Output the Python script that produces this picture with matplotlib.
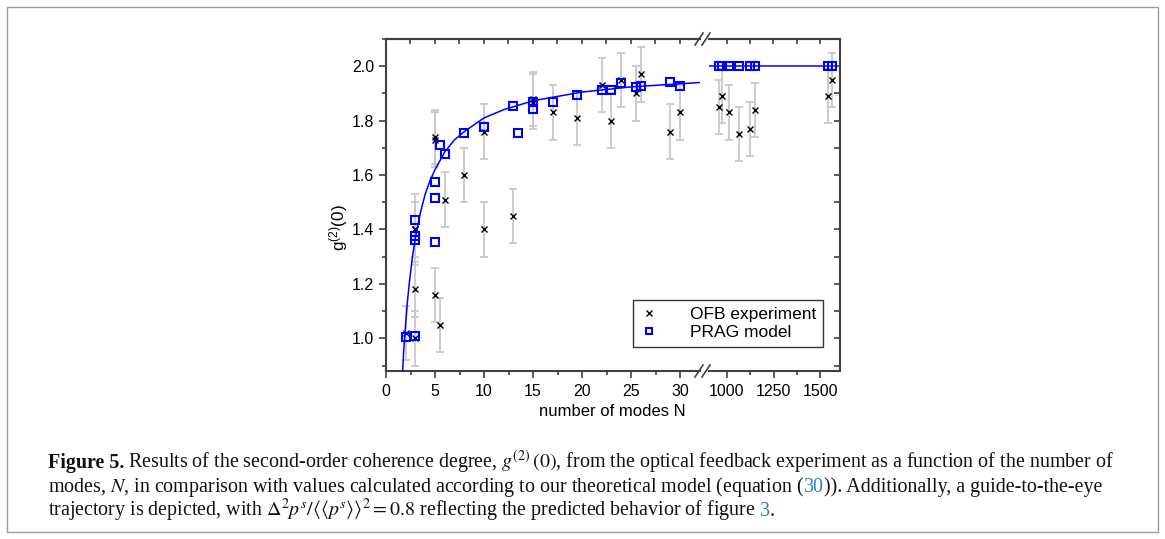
import matplotlib
matplotlib.use("Agg")
import matplotlib.pyplot as plt
from matplotlib.ticker import MultipleLocator, FixedLocator
from matplotlib.lines import Line2D
from matplotlib.patches import Rectangle

# ---------------- data ----------------
ofb_N_left = [2, 3, 3, 3, 3, 5, 5, 5, 5.5, 6, 8, 10, 10, 13, 15, 15, 17, 19.5,
              22, 23, 24, 25.5, 26, 29, 30]
ofb_g2_left = [1.02, 1.40, 1.40, 1.18, 1.00, 1.74, 1.73, 1.16, 1.05, 1.51, 1.60,
               1.76, 1.40, 1.45, 1.88, 1.87, 1.83, 1.81, 1.93, 1.80, 1.95, 1.90,
               1.97, 1.76, 1.83]
ofb_err_left = [0.10, 0.13, 0.10, 0.10, 0.10, 0.10, 0.10, 0.10, 0.10, 0.10, 0.10,
                0.10, 0.10, 0.10, 0.10, 0.10, 0.10, 0.10, 0.10, 0.10, 0.10, 0.10,
                0.10, 0.10, 0.10]

ofb_N_right = [957, 971, 1011, 1066, 1126, 1151, 1543, 1565]
ofb_g2_right = [1.85, 1.89, 1.83, 1.75, 1.77, 1.84, 1.89, 1.95]
ofb_err_right = [0.10, 0.10, 0.10, 0.10, 0.10, 0.10, 0.10, 0.10]

prag_N_left = [2, 3, 3, 3, 3, 5, 5, 5, 5.5, 6, 8, 10, 10, 13, 13.5, 15, 15, 17,
               19.5, 22, 23, 24, 25.5, 26, 29, 30]
prag_g2_left = [1.005, 1.01, 1.36, 1.375, 1.435, 1.355, 1.515, 1.573, 1.712, 1.677,
                1.756, 1.777, 1.775, 1.855, 1.754, 1.87, 1.843, 1.87, 1.894, 1.911,
                1.912, 1.938, 1.923, 1.926, 1.943, 1.927]

prag_N_right = [957, 971, 1011, 1066, 1126, 1151, 1543, 1565]
prag_g2_right = [2.0, 2.0, 2.0, 2.0, 2.0, 2.0, 2.0, 2.0]

guide_N_left = [1.7, 1.8, 1.9, 2.0, 2.2, 2.4, 2.7, 3.0, 3.5, 4.0, 4.5, 5, 6, 7, 8,
                10, 12, 15, 20, 25, 32]
guide_g2_left = [0.88, 0.95, 1.00, 1.05, 1.14, 1.21, 1.30, 1.37, 1.46, 1.53, 1.58,
                 1.62, 1.685, 1.73, 1.76, 1.81, 1.84, 1.873, 1.905, 1.924, 1.94]
guide_N_right = [880, 1572]
guide_g2_right = [2.0, 2.0]

xticks_left = [0, 5, 10, 15, 20, 25, 30]
xticks_right = [1000, 1250, 1500]
yticks = [1.0, 1.2, 1.4, 1.6, 1.8, 2.0]

# ---------------- figure ----------------
plt.rcParams['font.family'] = ['Liberation Sans', 'DejaVu Sans']
plt.rcParams['mathtext.fontset'] = 'custom'
plt.rcParams['mathtext.rm'] = 'Liberation Sans'
plt.rcParams['mathtext.it'] = 'Liberation Sans:italic'
plt.rcParams['mathtext.bf'] = 'Liberation Sans:bold'

W, H = 1165, 539
fig = plt.figure(figsize=(W / 100, H / 100), dpi=100)


def fx(px):
    return px / W


def fy(py):
    return 1 - py / H


AX_L, AX_BREAK_L, AX_BREAK_R, AX_R = 386, 700, 709, 840
AX_T, AX_B = 39, 371
axL = fig.add_axes([fx(AX_L), fy(AX_B), fx(AX_BREAK_L) - fx(AX_L), fy(AX_T) - fy(AX_B)])
axR = fig.add_axes([fx(AX_BREAK_R), fy(AX_B), fx(AX_R) - fx(AX_BREAK_R), fy(AX_T) - fy(AX_B)])

SPC = '#404040'
BLUE = '#0000ff'
EGRAY = '#c8c8c8'
ylim = (0.88, 2.1)

for ax, N_ofb, g_ofb, e_ofb, N_pr, g_pr, N_gd, g_gd in [
        (axL, ofb_N_left, ofb_g2_left, ofb_err_left, prag_N_left, prag_g2_left,
         guide_N_left, guide_g2_left),
        (axR, ofb_N_right, ofb_g2_right, ofb_err_right, prag_N_right, prag_g2_right,
         guide_N_right, guide_g2_right)]:
    ax.errorbar(N_ofb, g_ofb, yerr=e_ofb, fmt='none', ecolor=EGRAY, elinewidth=1.3,
                capsize=3, capthick=1.3, zorder=1)
    ax.plot(N_ofb, g_ofb, ls='none', marker='x', ms=5, mew=1.0, color='black', zorder=3)
    ax.plot(N_gd, g_gd, color=BLUE, lw=1.1, zorder=4)
    ax.plot(N_pr, g_pr, ls='none', marker='s', ms=6.2, mfc='none', mec=BLUE, mew=1.5,
            zorder=5)
    ax.set_ylim(*ylim)
    for sp in ax.spines.values():
        sp.set_color(SPC)
        sp.set_linewidth(1.5)

axL.set_xlim(0, (AX_BREAK_L - AX_L) / 9.8)
axR.set_xlim(1000 - (727 - AX_BREAK_R) / 0.186, 1000 + (AX_R - 727) / 0.186)

axL.spines['right'].set_visible(False)
axR.spines['left'].set_visible(False)

# left axes ticks
axL.xaxis.set_major_locator(FixedLocator(xticks_left))
axL.xaxis.set_minor_locator(MultipleLocator(2.5))
axL.yaxis.set_major_locator(FixedLocator(yticks))
axL.yaxis.set_minor_locator(MultipleLocator(0.1))
axL.set_yticklabels([f'{v:.1f}' for v in yticks])
axL.tick_params(axis='both', which='both', direction='out', color=SPC, width=1.2,
                labelsize=11.5, top=False, right=False)
axL.tick_params(which='major', length=5)
axL.tick_params(which='minor', length=3)
axL.tick_params(axis='x', pad=4)

# right axes ticks
axR.xaxis.set_major_locator(FixedLocator(xticks_right))
axR.xaxis.set_minor_locator(FixedLocator([1125, 1375]))
axR.yaxis.tick_right()
axR.yaxis.set_major_locator(FixedLocator(yticks))
axR.yaxis.set_minor_locator(MultipleLocator(0.1))
axR.tick_params(axis='x', which='both', direction='out', color=SPC, width=1.2,
                labelsize=11.5, pad=4)
axR.tick_params(axis='x', which='major', length=5)
axR.tick_params(axis='x', which='minor', length=3)
axR.tick_params(axis='y', which='both', direction='in', color=SPC, width=1.2,
                length=4.5, labelright=False, left=False)

# top ticks (inward)
for ax, loc in [(axL, MultipleLocator(2.5)), (axR, FixedLocator([1000, 1125, 1250, 1375, 1500]))]:
    sec = ax.secondary_xaxis('top')
    sec.xaxis.set_major_locator(loc)
    sec.tick_params(direction='in', length=3.5, width=1.2, color=SPC, labeltop=False)
    sec.spines['top'].set_color(SPC)
    sec.spines['top'].set_linewidth(1.5)

# axis break marks
for ybase in (AX_T, AX_B):
    for x0 in (695, 702):
        fig.add_artist(Line2D([fx(x0), fx(x0 + 8)], [fy(ybase + 6), fy(ybase - 6)],
                              color=SPC, lw=1.2))

# labels
fig.text(fx(339), fy(228), r'g$^{\mathrm{(2)}}$(0)', rotation=90, ha='center',
         va='center', fontsize=12.3)
fig.text(fx(612), fy(412), 'number of modes N', ha='center', va='center', fontsize=12)

# legend
h1 = Line2D([], [], ls='none', marker='x', ms=4, mew=1.0, color='black')
h2 = Line2D([], [], ls='none', marker='s', ms=5, mfc='none', mec=BLUE, mew=1.5)
leg = fig.legend([h1, h2], ['OFB experiment', 'PRAG model'], loc='upper left',
                 bbox_to_anchor=(fx(633), fy(300)), frameon=True, fancybox=False,
                 edgecolor='black', fontsize=12.5, handlelength=1.0, handletextpad=1.9,
                 borderpad=0.4, labelspacing=0.15, borderaxespad=0.0)
leg.get_frame().set_linewidth(1.0)

# outer frame
fig.add_artist(Rectangle((fx(7), fy(532)), fx(1158) - fx(7), fy(7) - fy(532),
                         fill=False, edgecolor='#9a9a9a', lw=1.0))

# caption
renderer = fig.canvas.get_renderer()
CAP = dict(family=['Liberation Serif', 'DejaVu Serif'], fontsize=14.4, color='#111111',
           math_fontfamily='stix')
LINK = '#2c7fbf'
SP = 4.0


def draw_line(segments, x0, ybase):
    x = x0
    for s, kw in segments:
        if s == ' ':
            x += SP
            continue
        props = dict(CAP)
        props.update(kw)
        t = fig.text(fx(x), fy(ybase), s, ha='left', va='baseline', **props)
        bb = t.get_window_extent(renderer)
        x = bb.x1


draw_line([('Figure 5.', dict(weight='bold')), (' ', {}),
           (r'Results of the second-order coherence degree, $g^{(2)}\,(0)$, from the optical '
            r'feedback experiment as a function of the number of', {})], 48, 468)
draw_line([(r'modes, $N$, in comparison with values calculated according to our theoretical '
            r'model (equation (', {}), ('30', dict(color=LINK)),
           (')). Additionally, a guide-to-the-eye', {})], 48, 492)
draw_line([(r'trajectory is depicted, with $\Delta^2 p^s/\langle\langle p^s\rangle\rangle^2 = 0.8$ '
            r'reflecting the predicted behavior of figure', {}), (' ', {}),
           ('3', dict(color=LINK)), ('.', {})], 48, 516)

fig.savefig('out.png', dpi=100)
